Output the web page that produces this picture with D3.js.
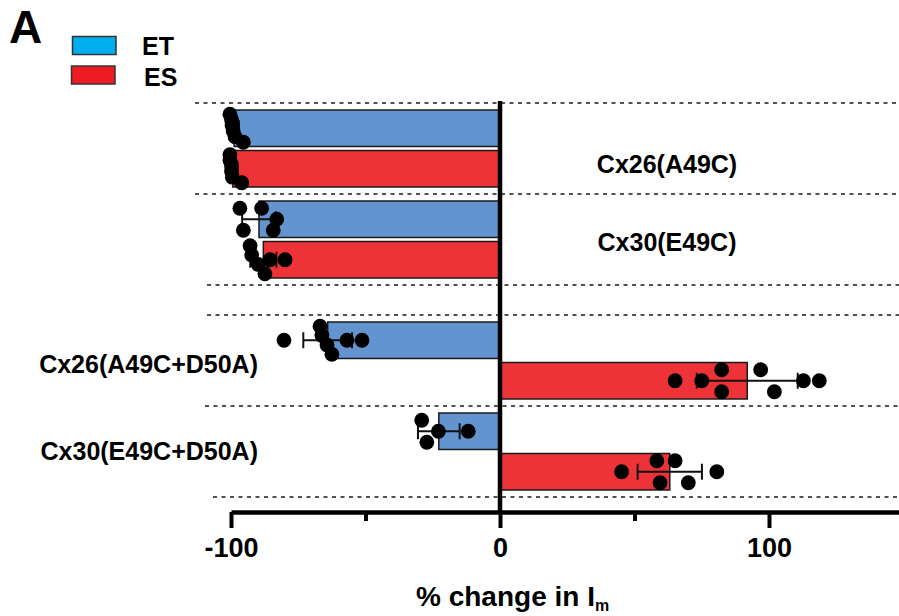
<!DOCTYPE html>
<html>
<head>
<meta charset="utf-8">
<script src="https://cdn.jsdelivr.net/npm/d3@7"></script>
<style>
  body { margin: 0; background: #fff; }
  svg { display: block; font-family: "Liberation Sans", Arial, sans-serif; font-weight: bold; }
</style>
</head>
<body>
<svg id="chart" width="899" height="616"></svg>
<script>
// constructs, top to bottom
const groups = ['Cx26(A49C)', 'Cx30(E49C)', 'Cx26(A49C+D50A)', 'Cx30(E49C+D50A)'];
const series = ['ET', 'ES'];

// individual cells (% change in Im)
const etValues = [
    [-99.2, -99.8, -100.4, -95.4, -98.5, -99.6],
    [-96.7, -95.4, -88.6, -84.3, -83.0],
    [-80.3, -66.9, -66.2, -64.3, -62.5, -56.9, -51.3],
    [-29.1, -27.2, -22.9, -11.8]
];
const esValues = [
    [-99.8, -100.4, -100.4, -96.0, -99.8, -99.5],
    [-92.9, -92.3, -89.9, -87.4, -85.5, -79.9],
    [65.1, 75.0, 82.4, 82.4, 96.9, 102.0, 112.8, 118.7],
    [45.2, 58.3, 59.5, 65.1, 70.0, 80.6]
];

const xTicks = [-100, 0, 100];
const xMinorTicks = [-50, 50];

const legendColors = { ET: '#00aeef', ES: '#ed1c24' };
const barColors = { ET: '#6394cf', ES: '#ee3338' };

const svg = d3.select('#chart');

const x = d3.scaleLinear().domain([-100, 150]).range([231, 903.5]);

// two blocks of two constructs each
const block = d3.scaleBand().domain([0, 1]).range([103, 497]).paddingInner(0.1415);
const groupBand = d3.scaleBand().domain([0, 1]).range([0, block.bandwidth()]);
const seriesBand = d3.scaleBand().domain(series).range([0, groupBand.bandwidth()])
    .paddingInner(0.099).paddingOuter(0.173);

const groupTop = i => block(Math.floor(i / 2)) + groupBand(i % 2);
const barY = (i, s) => groupTop(i) + seriesBand(s);
const bw = seriesBand.bandwidth();

// dashed separators
const sepStarts = [195, 195, 207, 207, 205, 213];
const seps = [];
[0, 1].forEach(b => {
    seps.push(block(b), block(b) + groupBand.bandwidth(), block(b) + block.bandwidth());
});
svg.append('g').selectAll('line').data(seps).join('line')
    .attr('x1', (d, i) => sepStarts[i]).attr('x2', 899)
    .attr('y1', d => d).attr('y2', d => d)
    .attr('stroke', '#1a1a1a').attr('stroke-width', 1.3).attr('stroke-dasharray', '4,4.5');

const rows = [];
groups.forEach((g, i) => {
    rows.push({ g: i, s: 'ET', vals: etValues[i] });
    rows.push({ g: i, s: 'ES', vals: esValues[i] });
});
rows.forEach(r => {
    r.mean = d3.mean(r.vals);
    r.sd = d3.deviation(r.vals);
    r.y = barY(r.g, r.s);
});

// bars
svg.append('g').selectAll('rect').data(rows).join('rect')
    .attr('x', d => Math.min(x(0), x(d.mean)))
    .attr('y', d => d.y)
    .attr('width', d => Math.abs(x(d.mean) - x(0)))
    .attr('height', bw)
    .attr('fill', d => barColors[d.s])
    .attr('stroke', '#1a1a1a').attr('stroke-width', 1.5);

// error bars (mean +/- SD)
const eb = svg.append('g').attr('stroke', '#111').attr('stroke-width', 2);
rows.forEach(r => {
    const cy = r.y + bw / 2;
    const lo = x(r.mean - r.sd), hi = x(r.mean + r.sd);
    eb.append('line').attr('x1', lo).attr('x2', hi).attr('y1', cy).attr('y2', cy);
    [lo, hi].forEach(px => {
        eb.append('line').attr('x1', px).attr('x2', px).attr('y1', cy - 8).attr('y2', cy + 8);
    });
});

// scatter: points close in value are spread across the bar
const binPx = 15, maxStep = 22, maxSpread = 28;
function spread(vals, cy) {
    const sorted = vals.slice().sort(d3.ascending);
    const bins = [];
    sorted.forEach(v => {
        const last = bins[bins.length - 1];
        if (last && x(v) - x(last[0]) < binPx) last.push(v);
        else bins.push([v]);
    });
    return bins.flatMap(b => {
        const n = b.length;
        const step = n > 1 ? Math.min(maxStep, maxSpread / (n - 1)) : 0;
        return b.map((v, i) => ({ v: v, y: cy + (i - (n - 1) / 2) * step }));
    });
}
const dots = rows.flatMap(r => spread(r.vals, r.y + bw / 2));
svg.append('g').selectAll('circle').data(dots).join('circle')
    .attr('cx', d => x(d.v)).attr('cy', d => d.y).attr('r', 7.4)
    .attr('fill', '#000');

// x axis
const axisY = 512;
const axisG = svg.append('g').attr('transform', `translate(0,${axisY})`)
    .call(d3.axisBottom(x).tickValues(xTicks).tickSize(16).tickSizeOuter(0).tickPadding(10)
        .tickFormat(d => String(d)));
axisG.select('.domain').attr('stroke', '#000').attr('stroke-width', 4.5);
axisG.selectAll('.tick line').attr('stroke', '#000').attr('stroke-width', 4);
axisG.selectAll('.tick text').attr('font-size', 27).attr('font-weight', 'bold')
    .attr('font-family', '"Liberation Sans", Arial, sans-serif').attr('fill', '#000');

const minorG = svg.append('g').attr('transform', `translate(0,${axisY})`)
    .call(d3.axisBottom(x).tickValues(xMinorTicks).tickSize(9).tickFormat(''));
minorG.select('.domain').remove();
minorG.selectAll('.tick line').attr('stroke', '#000').attr('stroke-width', 4);

// zero line
svg.append('line')
    .attr('x1', x(0)).attr('x2', x(0)).attr('y1', 101).attr('y2', axisY)
    .attr('stroke', '#000').attr('stroke-width', 4.5);

// axis title
const title = svg.append('text').attr('x', 416).attr('y', 606).attr('font-size', 28).attr('fill', '#000');
title.append('tspan').text('% change in I');
title.append('tspan').attr('font-size', 16).attr('dy', 5).text('m');

// construct labels
const labelSpec = [
    { x: 667, anchor: 'middle', dy: 24 },
    { x: 667, anchor: 'middle', dy: 11 },
    { x: 258, anchor: 'end', dy: 13 },
    { x: 258, anchor: 'end', dy: 9 }
];
svg.append('g').selectAll('text').data(groups).join('text')
    .attr('x', (d, i) => labelSpec[i].x)
    .attr('y', (d, i) => groupTop(i) + groupBand.bandwidth() / 2 + labelSpec[i].dy)
    .attr('text-anchor', (d, i) => labelSpec[i].anchor)
    .attr('font-size', 25).attr('fill', '#000')
    .text(d => d);

// panel letter
svg.append('text').attr('x', 9).attr('y', 43).attr('font-size', 46).attr('fill', '#000').text('A');

// legend
const legend = svg.append('g');
series.forEach((s, i) => {
    legend.append('rect')
        .attr('x', 72.5 - i).attr('y', 36.5 + i * 29.5).attr('width', 43.5).attr('height', 18)
        .attr('fill', legendColors[s]).attr('stroke', '#333').attr('stroke-width', 1.5);
    legend.append('text')
        .attr('x', 142 + i * 2).attr('y', 55 + i * 31).attr('font-size', 25).attr('fill', '#000')
        .text(s);
});
</script>
</body>
</html>
